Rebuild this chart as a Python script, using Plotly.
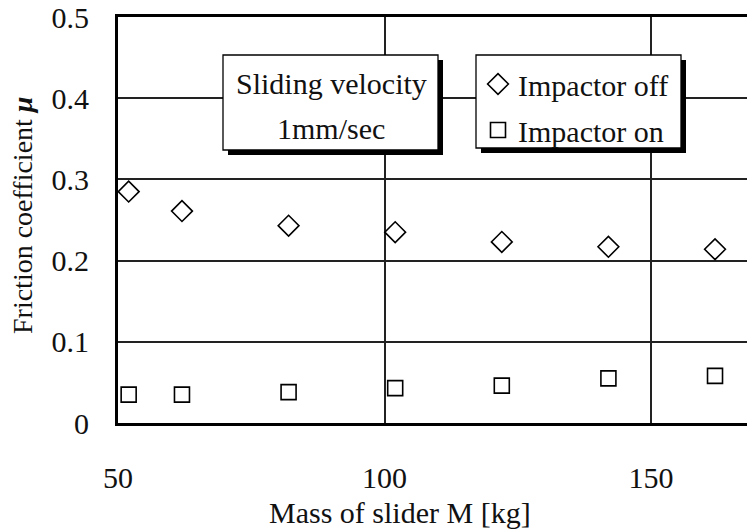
import plotly.graph_objects as go

mass = [52, 62, 82, 102, 122, 142, 162]
mu_off = [0.285, 0.261, 0.243, 0.235, 0.223, 0.217, 0.214]
mu_on = [0.035, 0.035, 0.038, 0.043, 0.046, 0.055, 0.058]
x_ticks = [50, 100, 150]
y_ticks = [0, 0.1, 0.2, 0.3, 0.4, 0.5]
y_tick_labels = ["0", "0.1", "0.2", "0.3", "0.4", "0.5"]

W, H = 747, 531
L, T, B = 118, 17, 108
PW, PH = W - L, H - T - B

def px(x):
    return (x - L) / PW

def py(y):
    return (H - B - y) / PH

FONT = "Liberation Serif, Times New Roman, serif"
FS = 30
FS_Y = 28
TXT = "#111"

fig = go.Figure()
fig.add_trace(go.Scatter(x=mass, y=mu_off, mode="markers", name="Impactor off",
                         legendgroup="a",
                         marker=dict(symbol="diamond-open", size=16, color="black",
                                     line=dict(width=1.6, color="black"))))
fig.add_trace(go.Scatter(x=mass, y=mu_on, mode="markers", name="Impactor on",
                         legendgroup="b",
                         marker=dict(symbol="square-open", size=15, color="black",
                                     line=dict(width=1.6, color="black"))))

shapes = []
# Sliding velocity box with shadow
shapes.append(dict(type="rect", xref="paper", yref="paper", layer="above",
                   x0=px(228), x1=px(443), y0=py(155), y1=py(60),
                   fillcolor="black", line=dict(width=0)))
shapes.append(dict(type="rect", xref="paper", yref="paper", layer="above",
                   x0=px(223), x1=px(438), y0=py(150), y1=py(55),
                   fillcolor="white", line=dict(width=1.3, color="black")))
# Legend box with shadow
shapes.append(dict(type="rect", xref="paper", yref="paper", layer="above",
                   x0=px(481), x1=px(686), y0=py(153), y1=py(60),
                   fillcolor="black", line=dict(width=0)))
shapes.append(dict(type="rect", xref="paper", yref="paper", layer="above",
                   x0=px(476), x1=px(681), y0=py(148), y1=py(55),
                   fillcolor="white", line=dict(width=1.3, color="black")))

annotations = [
    dict(text="Sliding velocity", xref="paper", yref="paper", x=px(331), y=py(84),
         showarrow=False, xanchor="center", yanchor="middle",
         font=dict(family=FONT, size=FS, color=TXT)),
    dict(text="1mm/sec", xref="paper", yref="paper", x=px(331), y=py(128),
         showarrow=False, xanchor="center", yanchor="middle",
         font=dict(family=FONT, size=FS, color=TXT)),
    dict(text="Mass of slider M [kg]", xref="paper", yref="paper", x=px(400), y=py(512),
         showarrow=False, xanchor="center", yanchor="middle",
         font=dict(family=FONT, size=FS, color=TXT)),
    dict(text="Friction coefficient <b><i>μ</i></b>", xref="paper", yref="paper",
         x=px(22), y=py(216), textangle=-90,
         showarrow=False, xanchor="center", yanchor="middle",
         font=dict(family=FONT, size=FS_Y, color=TXT)),
]

fig.update_layout(
    width=W, height=H,
    margin=dict(l=L, r=0, t=T, b=B),
    paper_bgcolor="white", plot_bgcolor="white",
    showlegend=True,
    legend=dict(x=px(478), y=py(58), xanchor="left", yanchor="top",
                bgcolor="rgba(0,0,0,0)", borderwidth=0,
                font=dict(family=FONT, size=FS, color=TXT),
                traceorder="grouped", tracegroupgap=4),
    shapes=shapes,
    annotations=annotations,
    xaxis=dict(range=[50, 168], tickvals=x_ticks, ticktext=[str(v) for v in x_ticks],
               showgrid=True, gridcolor="#222", gridwidth=1.5,
               showline=True, linecolor="black", linewidth=3, mirror=True,
               ticks="outside", ticklen=26, tickcolor="rgba(0,0,0,0)",
               tickfont=dict(family=FONT, size=FS, color=TXT),
               zeroline=False, fixedrange=True),
    yaxis=dict(range=[0, 0.5], tickvals=y_ticks, ticktext=y_tick_labels,
               showgrid=True, gridcolor="#222", gridwidth=1.5,
               showline=True, linecolor="black", linewidth=3,
               ticks="outside", ticklen=20, tickcolor="rgba(0,0,0,0)",
               tickfont=dict(family=FONT, size=FS, color=TXT),
               zeroline=False, fixedrange=True),
)

fig.write_html("out.html", config={"displayModeBar": False},
               post_script="document.body.style.margin='0';document.body.style.overflow='hidden';")
